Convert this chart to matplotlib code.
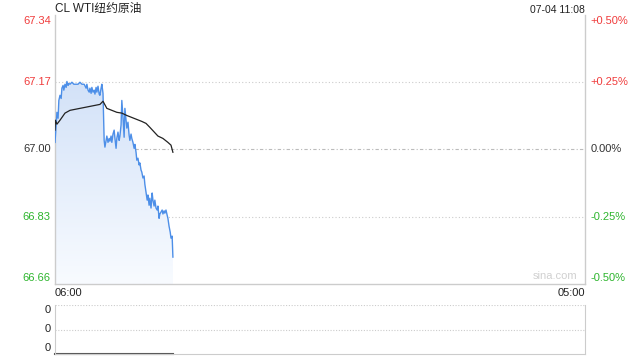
import numpy as np
import matplotlib.pyplot as plt
from matplotlib.colors import LinearSegmentedColormap

plt.rcParams['font.family'] = ['Liberation Sans', 'Noto Sans CJK SC', 'DejaVu Sans']

title = 'CL WTI纽约原油'
stamp = '07-04 11:08'
base = 67.00

# minutes since 06:00, price
minutes = [0, 3, 5, 8, 10, 13, 16, 18, 21, 23, 26, 29, 31, 34, 36, 39, 44, 49, 55, 60,
           65, 70, 76, 81, 83, 86, 89, 91, 94, 96, 99, 102, 104, 107, 109, 112, 115, 117, 120, 122,
           125, 128, 130, 133, 135, 138, 141, 143, 146, 148, 151, 154, 156, 159, 161, 164, 167, 169, 172, 174,
           177, 180, 182, 185, 187, 190, 193, 195, 198, 200, 203, 206, 208, 211, 213, 216, 219, 221, 224, 226,
           229, 232, 234, 237, 240, 242, 245, 247, 250, 253, 255, 258, 260, 263, 266, 268, 271, 273, 276, 279,
           281, 284, 286, 289, 292, 294, 297, 300, 302, 305, 307]
price = [67.018, 67.061, 67.094, 67.079, 67.124, 67.137, 67.129, 67.155, 67.162, 67.150,
         67.165, 67.157, 67.172, 67.162, 67.167, 67.165, 67.170, 67.165, 67.165, 67.165,
         67.170, 67.165, 67.165, 67.155, 67.165, 67.150, 67.145, 67.155, 67.142, 67.157,
         67.145, 67.150, 67.140, 67.157, 67.145, 67.160, 67.140, 67.137, 67.155, 67.165,
         67.142, 67.023, 67.006, 67.023, 67.034, 67.018, 67.028, 67.021, 67.034, 67.018,
         67.039, 67.049, 67.029, 67.003, 67.028, 67.044, 67.023, 67.034, 67.062, 67.124,
         67.082, 67.031, 67.104, 67.074, 67.054, 67.069, 67.036, 67.023, 67.039, 67.028,
         67.018, 67.003, 67.013, 66.993, 66.973, 66.978, 66.961, 66.966, 66.948, 66.943,
         66.928, 66.933, 66.912, 66.892, 66.872, 66.885, 66.859, 66.877, 66.852, 66.890,
         66.872, 66.857, 66.872, 66.852, 66.847, 66.857, 66.826, 66.837, 66.842, 66.847,
         66.837, 66.845, 66.839, 66.847, 66.834, 66.826, 66.806, 66.791, 66.776, 66.781,
         66.728]

avg_minutes = [0, 1, 5, 13, 26, 39, 65, 91, 117, 125, 135, 148, 161, 174, 187,
               200, 213, 226, 237, 247, 268, 281, 294, 302, 307]
avg_price = [67.049, 67.074, 67.064, 67.074, 67.092, 67.099, 67.104, 67.109, 67.114, 67.122,
             67.104, 67.099, 67.094, 67.092, 67.086, 67.081, 67.076, 67.071, 67.066, 67.056,
             67.034, 67.028, 67.018, 67.011, 66.993]

volume = [0, 0]
vol_minutes = [0, 307]

ylabels_left = ['67.34', '67.17', '67.00', '66.83', '66.66']
ylabels_right = ['+0.50%', '+0.25%', '0.00%', '-0.25%', '-0.50%']
ylevels = [67.34, 67.17, 67.00, 66.83, 66.66]
RED = '#f03c3c'
GREEN = '#2db52d'
label_colors = [RED, RED, '#333333', GREEN, GREEN]

fig = plt.figure(figsize=(6.4, 3.6), dpi=100)
ax = fig.add_axes([55 / 640, 1 - 284 / 360, 530 / 640, 269 / 360])
ax.set_xlim(0, 1380)
ax.set_ylim(66.66, 67.34)

# gradient fill under the price line
grad = LinearSegmentedColormap.from_list('g', ['#f8fbff', '#d3e2f8'])
poly = ax.fill_between(minutes, price, 66.66, color='none', lw=0)
img = ax.imshow(np.linspace(0, 1, 100).reshape(-1, 1), cmap=grad, aspect='auto',
                extent=(0, max(minutes), 66.66, max(price)), origin='lower', zorder=1)
img.set_clip_path(poly.get_paths()[0], transform=ax.transData)

ax.plot(minutes, price, color='#4d8fe8', lw=1.0, zorder=3)
ax.plot(avg_minutes, avg_price, color='#222222', lw=0.9, zorder=4)

ax.axhline(67.17, color='#cccccc', lw=0.8, ls=(0, (1, 2)), zorder=0)
ax.axhline(66.83, color='#cccccc', lw=0.8, ls=(0, (1, 2)), zorder=0)
ax.axhline(67.00, color='#bbbbbb', lw=0.8, ls=(0, (3, 2, 1, 2)), zorder=0)

ax.set_xticks([])
ax.set_yticks([])
for s in ['top']:
    ax.spines[s].set_visible(False)
for s in ['left', 'right', 'bottom']:
    ax.spines[s].set_color('#cccccc')
    ax.spines[s].set_linewidth(1)

# axis labels as text (top/bottom ones sit inside the range)
label_y = [67.325, 67.17, 67.00, 66.83, 66.675]
for lv, l, r, c in zip(label_y, ylabels_left, ylabels_right, label_colors):
    ax.text(-0.008, lv, l, transform=ax.get_yaxis_transform(), ha='right', va='center',
            fontsize=8, color=c)
    ax.text(1.01, lv, r, transform=ax.get_yaxis_transform(), ha='left', va='center',
            fontsize=8, color=c)

ax.text(0, 1.0, title, transform=ax.transAxes, ha='left', va='bottom', fontsize=8.5, color='#222222')
ax.text(1, 1.0, stamp, transform=ax.transAxes, ha='right', va='bottom', fontsize=7.5, color='#222222')
ax.text(0.985, 0.012, 'sina.com', transform=ax.transAxes, ha='right', va='bottom',
        fontsize=8, color='#d0d0d0')
ax.text(0, -0.015, '06:00', transform=ax.transAxes, ha='left', va='top', fontsize=8, color='#222222')
ax.text(1, -0.015, '05:00', transform=ax.transAxes, ha='right', va='top', fontsize=8, color='#222222')

# volume panel
vx = fig.add_axes([55 / 640, 1 - 354 / 360, 530 / 640, 49 / 360])
vx.set_xlim(0, 1380)
vx.set_ylim(0, 1)
vx.plot(vol_minutes, volume, color='#555555', lw=1.5, clip_on=False)
vx.axhline(1, color='#cccccc', lw=0.8, ls=(0, (1, 1.5)))
vx.axhline(0.5, color='#cccccc', lw=0.8, ls=(0, (1, 1.5)))
vx.set_xticks([])
vx.set_yticks([])
vx.spines['top'].set_visible(False)
for s in ['left', 'right', 'bottom']:
    vx.spines[s].set_color('#cccccc')
for yy in [0.9, 0.5, 0.12]:
    vx.text(-0.008, yy, '0', transform=vx.transAxes, ha='right', va='center', fontsize=8, color='#222222')

fig.savefig('out.png', dpi=100)
